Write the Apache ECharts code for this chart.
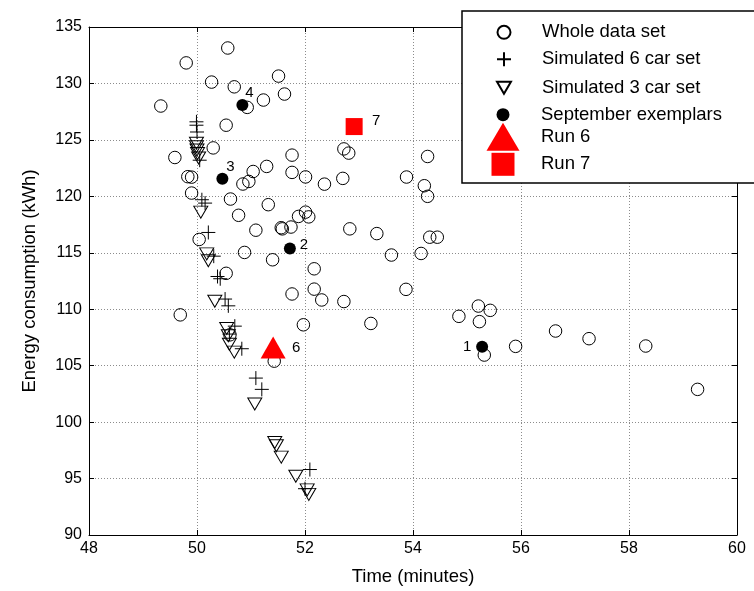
<!DOCTYPE html>
<html>
<head>
<meta charset="utf-8">
<script src="https://cdn.jsdelivr.net/npm/echarts@6/dist/echarts.min.js"></script>
<style>html,body{margin:0;padding:0;background:#fff}#c{width:754px;height:591px}</style>
</head>
<body>
<div id="c"></div>
<script>
// ---- data ----
var xTicks = [48, 50, 52, 54, 56, 58, 60];
var yTicks = [90, 95, 100, 105, 110, 115, 120, 125, 130, 135];
var seriesNames = ['Whole data set', 'Simulated 6 car set', 'Simulated 3 car set', 'September exemplars', 'Run 6', 'Run 7'];

var wholeDataSet = [
  [50.57,133.14],[49.80,131.82],[51.51,130.65],[50.27,130.12],[50.69,129.70],[51.62,129.06],
  [51.23,128.53],[50.93,127.88],[49.33,128.00],[50.54,126.30],[50.30,124.29],[49.59,123.44],
  [51.76,123.65],[51.29,122.65],[51.04,122.20],[51.76,122.12],[52.01,121.72],[52.36,121.08],
  [49.83,121.74],[49.90,121.70],[50.96,121.32],[50.85,121.09],[49.90,120.29],[50.62,119.76],
  [51.32,119.26],[50.77,118.32],[51.88,118.22],[52.01,118.60],[52.07,118.18],[51.56,117.22],
  [51.58,117.12],[51.74,117.28],[51.09,117.00],[50.04,116.18],[50.88,115.03],[51.40,114.38],
  [52.17,113.58],[50.54,113.18],[52.17,111.78],[52.31,110.82],[51.76,111.35],[49.69,109.50],
  [51.97,108.62],[50.61,107.73],[51.43,105.40],[52.72,124.20],[52.81,123.83],[54.27,123.53],
  [52.70,121.59],[53.88,121.71],[54.21,120.94],[54.27,120.00],[52.83,117.12],[53.33,116.70],
  [54.31,116.38],[54.45,116.38],[53.60,114.80],[54.15,114.94],[52.72,110.68],[53.87,111.76],
  [54.85,109.37],[53.22,108.74],[55.21,110.28],[55.43,109.90],[55.23,108.90],[55.32,105.94],
  [55.90,106.71],[56.64,108.07],[57.26,107.39],[58.31,106.74],[59.27,102.90]
];
var simulated6Car = [
  [49.99,126.6],[49.99,126.3],[50.00,125.7],[50.05,123.2],[50.09,119.7],[50.15,119.4],
  [50.21,116.8],[50.31,114.7],[50.38,112.9],[50.43,112.7],[50.52,110.9],[50.58,110.3],
  [50.70,108.5],[50.60,107.8],[50.83,106.5],[51.09,103.9],[51.20,102.9],[52.09,95.8],[52.00,94.1]
];
var simulated3Car = [
  [49.99,124.7],[49.99,124.4],[50.00,124.1],[50.01,123.8],[50.03,123.4],[50.07,118.6],
  [50.18,114.9],[50.21,114.3],[50.33,110.7],[50.55,108.3],[50.58,107.65],[50.60,106.9],
  [50.69,106.2],[51.07,101.6],[51.44,98.2],[51.47,97.9],[51.56,96.9],[51.83,95.2],
  [52.04,94.0],[52.07,93.6]
];
var septemberExemplars = [[55.28,106.68],[51.72,115.38],[50.47,121.56],[50.84,128.09]];
var septemberLabels = ['1', '2', '3', '4'];
var run6 = [[51.41,106.6]];
var run6Labels = ['6'];
var run7 = [[52.91,126.18]];
var run7Labels = ['7'];

// ---- styling ----
var FONT = 'Liberation Sans, Arial, sans-serif';
var plusPath = 'path://M0,5L10,5M5,0L5,10';
var downTriPath = 'path://M0,0L10,0L5,8.6Z';
var exemplarLabelOffsets = [[-15, 0], [14, -4], [8, -12], [7, -12]];

var chart = echarts.init(document.getElementById('c'), null, {renderer: 'canvas'});

function axisCommon(min, max, interval, show) {
  return {
    type: 'value', min: min, max: max, interval: interval,
    axisLine: {show: true, onZero: false, lineStyle: {color: '#000', width: 1}},
    axisTick: {show: true, inside: true, length: 5, lineStyle: {color: '#000'}},
    axisLabel: {show: show, color: '#000', fontSize: 16, fontFamily: FONT},
    splitLine: {show: false}
  };
}

var xMain = axisCommon(xTicks[0], xTicks[xTicks.length - 1], xTicks[1] - xTicks[0], true);
xMain.position = 'bottom';
xMain.axisLabel.margin = 6;
xMain.name = 'Time (minutes)';
xMain.nameLocation = 'middle';
xMain.nameGap = 32;
xMain.nameTextStyle = {color: '#000', fontSize: 18.5, fontFamily: FONT};
xMain.splitLine = {show: true, lineStyle: {color: '#8c8c8c', type: [1, 2], width: 1}};

var xTop = axisCommon(xTicks[0], xTicks[xTicks.length - 1], xTicks[1] - xTicks[0], false);
xTop.position = 'top';

var yMain = axisCommon(yTicks[0], yTicks[yTicks.length - 1], yTicks[1] - yTicks[0], true);
yMain.position = 'left';
yMain.axisLabel.margin = 7;
yMain.name = 'Energy consumption (kWh)';
yMain.nameLocation = 'middle';
yMain.nameGap = 50;
yMain.nameTextStyle = {color: '#000', fontSize: 18.5, fontFamily: FONT};
yMain.splitLine = {show: true, lineStyle: {color: '#8c8c8c', type: [1, 2], width: 1}};

var yRight = axisCommon(yTicks[0], yTicks[yTicks.length - 1], yTicks[1] - yTicks[0], false);
yRight.position = 'right';

// legend layout (one legend block per entry)
var legendRowY = [29.3, 56.7, 84.3, 111.7, 136.7, 164.3];
var legendIconW = [13, 14, 14, 13, 33, 23];
var legendIconH = [13, 14, 12, 13, 28, 23];
var legendIcons = [null, null, downTriPath, null, null, null];
var legendIconX = 503, legendTextX = 541;
var legends = seriesNames.map(function (n, i) {
  var item = {name: n};
  if (legendIcons[i]) item.icon = legendIcons[i];
  return {
    data: [item], orient: 'vertical', selectedMode: false, padding: 0, z: 6,
    left: legendIconX - legendIconW[i] / 2,
    top: legendRowY[i] - legendIconH[i] / 2,
    itemWidth: legendIconW[i], itemHeight: legendIconH[i],
    symbolRotate: 0,
    textStyle: {color: '#000', fontSize: 18.5, fontFamily: FONT,
      padding: [0, 0, 0, legendTextX - legendIconX - legendIconW[i] / 2 - 5]}
  };
});

var option = {
  animation: false,
  backgroundColor: '#fff',
  grid: {left: 89, right: 17, top: 27, bottom: 54, containLabel: false},
  xAxis: [xMain, xTop],
  yAxis: [yMain, yRight],
  legend: legends,
  graphic: [{
    type: 'rect', z: 5, silent: true,
    shape: {x: 462, y: 11, width: 300, height: 172},
    style: {fill: '#fff', stroke: '#000', lineWidth: 1.5}
  }],
  series: [
    {
      name: seriesNames[0], type: 'scatter', data: wholeDataSet,
      symbol: 'circle', symbolSize: 12.5,
      itemStyle: {color: 'transparent', borderColor: '#000', borderWidth: 1, opacity: 1}
    },
    {
      name: seriesNames[1], type: 'scatter', data: simulated6Car,
      symbol: plusPath, symbolSize: 14, symbolKeepAspect: true,
      itemStyle: {color: 'transparent', borderColor: '#000', borderWidth: 1, opacity: 1}
    },
    {
      name: seriesNames[2], type: 'scatter', data: simulated3Car,
      symbol: 'triangle', symbolRotate: 180, symbolSize: [14, 12],
      itemStyle: {color: 'transparent', borderColor: '#000', borderWidth: 1, opacity: 1}
    },
    {
      name: seriesNames[3], type: 'scatter',
      data: septemberExemplars.map(function (p, i) {
        return {value: p, label: {offset: exemplarLabelOffsets[i], formatter: septemberLabels[i]}};
      }),
      symbol: 'circle', symbolSize: 12,
      itemStyle: {color: '#000', opacity: 1},
      label: {show: true, position: 'inside', color: '#000', fontSize: 15, fontFamily: FONT}
    },
    {
      name: seriesNames[4], type: 'scatter',
      data: run6.map(function (p, i) { return {value: p, label: {formatter: run6Labels[i]}}; }),
      symbol: 'triangle', symbolSize: [25, 22],
      itemStyle: {color: '#ff0000', opacity: 1},
      label: {show: true, position: 'inside', offset: [23, 0], color: '#000', fontSize: 15, fontFamily: FONT}
    },
    {
      name: seriesNames[5], type: 'scatter',
      data: run7.map(function (p, i) { return {value: p, label: {formatter: run7Labels[i]}}; }),
      symbol: 'rect', symbolSize: 17,
      itemStyle: {color: '#ff0000', opacity: 1},
      label: {show: true, position: 'inside', offset: [22, -6], color: '#000', fontSize: 15, fontFamily: FONT}
    }
  ]
};
chart.setOption(option);
</script>
</body>
</html>
